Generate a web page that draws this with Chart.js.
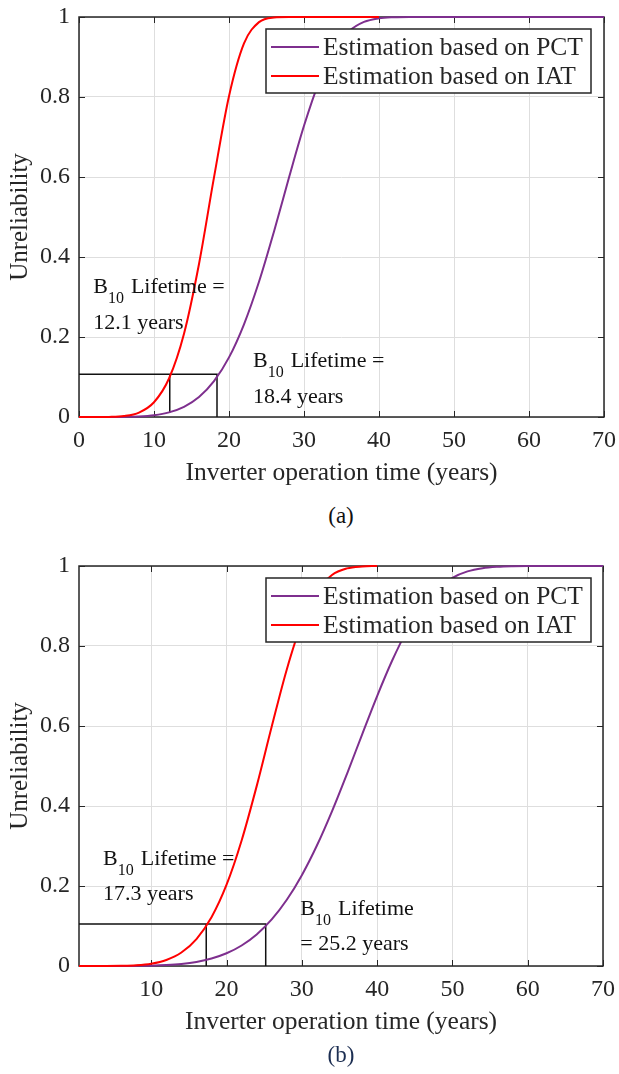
<!DOCTYPE html>
<html lang="en">
<head>
<meta charset="UTF-8">
<title>Inverter unreliability - B10 lifetime</title>
<script src="https://cdn.jsdelivr.net/npm/chart.js@4.4.1/dist/chart.umd.min.js"></script>
<style>
    body {margin:0;padding:0;background:#fff;font-family:"Liberation Serif","Times New Roman",serif;}
    .panel {position:absolute;left:0;width:619px;height:500px;}
    .caption {position:absolute;left:291px;width:100px;text-align:center;font-size:23px;line-height:26px;}
</style>
</head>
<body>
<div class="panel" style="top:0"><canvas id="chartA" width="619" height="500"></canvas></div>
<div class="caption" style="top:503px;color:#111;">(a)</div>
<div class="panel" style="top:549px"><canvas id="chartB" width="619" height="500"></canvas></div>
<div class="caption" style="top:1042px;color:#1c2e52;">(b)</div>
<script>
    // (a) values
    const yearsA_IAT = [0, 2, 4, 6, 8, 10, 12, 14, 16, 18, 20, 22, 24, 26, 28, 30, 35, 40];
    const unrelA_IAT = [0, 0, 0.0003, 0.0023, 0.0111, 0.0369, 0.0962, 0.2082, 0.3826, 0.5991, 0.8021, 0.934, 0.9872, 0.9988, 1, 1, 1, 1];
    const yearsA_PCT = [0, 2, 4, 6, 8, 10, 12, 14, 16, 18, 20, 22, 24, 26, 28, 30, 32, 34, 36, 38, 40, 42, 44, 50, 60, 70];
    const unrelA_PCT = [0, 0, 0, 0.0003, 0.0014, 0.0045, 0.0116, 0.0254, 0.0499, 0.0895, 0.149, 0.2318, 0.338, 0.4638, 0.5987, 0.728, 0.8373, 0.9164, 0.9642, 0.9877, 0.9968, 0.9994, 1, 1, 1, 1];
    const b10A = [12.1, 18.4];
    const b10LevelA = 0.107;
    const b10FootA = [0.012, 0];

    // (b) values
    const yearsB_IAT = [0.4, 2, 4, 6, 8, 10, 12, 14, 16, 18, 20, 22, 24, 26, 28, 30, 32, 34, 36, 38, 40];
    const unrelB_IAT = [0, 0, 0, 0.0004, 0.0018, 0.0058, 0.0151, 0.0337, 0.0673, 0.1219, 0.2032, 0.3139, 0.4497, 0.5987, 0.7414, 0.8576, 0.9356, 0.9773, 0.994, 0.9989, 1];
    const yearsB_PCT = [0.4, 2, 4, 6, 8, 10, 12, 14, 16, 18, 20, 22, 24, 26, 28, 30, 32, 34, 36, 38, 40, 42, 44, 46, 48, 50, 52, 54, 56, 58, 60, 65, 70];
    const unrelB_PCT = [0, 0, 0, 0.0001, 0.0003, 0.0009, 0.0024, 0.0052, 0.0102, 0.0187, 0.0318, 0.0513, 0.0789, 0.1164, 0.1655, 0.2271, 0.3012, 0.3867, 0.4806, 0.5786, 0.6749, 0.7637, 0.8397, 0.8996, 0.9426, 0.9705, 0.9865, 0.9946, 0.9981, 0.9995, 1, 1, 1];
    const b10B = [17.3, 25.2];
    const b10LevelB = 0.105;
    const b10FootB = [0, 0];

    const xTicksA = [0, 10, 20, 30, 40, 50, 60, 70];
    const xTicksB = [10, 20, 30, 40, 50, 60, 70];
    const yTicks = [0, 0.2, 0.4, 0.6, 0.8, 1];
    const seriesNames = ['Estimation based on PCT', 'Estimation based on IAT'];

    const SERIF = '"Liberation Serif", "Times New Roman", serif';
    const PURPLE = '#7e2f8e';
    const RED = '#ff0000';
    const INK = '#262626';

    function pairs(xs, ys) {
        return xs.map((x, i) => ({x: x, y: ys[i]}));
    }

    // horizontal B10 level line plus the two drop lines
    function b10Path(xMin, level, xs, feet) {
        return [
            {x: xMin, y: level}, {x: xs[1], y: level}, {x: xs[1], y: feet[1]},
            {x: xs[1], y: null},
            {x: xs[0], y: level}, {x: xs[0], y: feet[0]}
        ];
    }

    function font(size) {
        return size + 'px ' + SERIF;
    }

    // matlab-ish frame, inward ticks, boxed legend and the B10 notes
    const matlabFrame = {
        id: 'matlabFrame',
        beforeDatasetsDraw(chart) {
            const {ctx, chartArea: a, scales: {x, y}} = chart;
            ctx.save();
            ctx.strokeStyle = INK;
            ctx.lineWidth = 1.5;
            ctx.strokeRect(a.left, a.top, a.width, a.height);
            ctx.lineWidth = 1;
            ctx.beginPath();
            x.ticks.forEach(t => {
                const px = Math.round(x.getPixelForValue(t.value)) + 0.5;
                ctx.moveTo(px, a.bottom); ctx.lineTo(px, a.bottom - 6);
                ctx.moveTo(px, a.top); ctx.lineTo(px, a.top + 6);
            });
            y.ticks.forEach(t => {
                const py = Math.round(y.getPixelForValue(t.value)) + 0.5;
                ctx.moveTo(a.left, py); ctx.lineTo(a.left + 6, py);
                ctx.moveTo(a.right, py); ctx.lineTo(a.right - 6, py);
            });
            ctx.stroke();
            ctx.restore();
        },
        afterDatasetsDraw(chart, args, opts) {
            const {ctx, chartArea: a, scales: {x, y}} = chart;
            ctx.save();
            // legend box
            const bw = 325, bh = 64;
            const bx = a.right - opts.legendRight - bw, by = a.top + 12;
            ctx.fillStyle = '#fff';
            ctx.fillRect(bx, by, bw, bh);
            ctx.strokeStyle = INK;
            ctx.lineWidth = 1.5;
            ctx.strokeRect(bx, by, bw, bh);
            const curves = chart.data.datasets.filter(d => d.inLegend);
            curves.sort((p, q) => p.legendRank - q.legendRank);
            curves.forEach((d, i) => {
                const ly = by + 18 + i * 29;
                ctx.strokeStyle = d.borderColor;
                ctx.lineWidth = 2;
                ctx.beginPath();
                ctx.moveTo(bx + 5, ly); ctx.lineTo(bx + 53, ly);
                ctx.stroke();
                ctx.fillStyle = INK;
                ctx.font = font(25.5);
                ctx.textBaseline = 'middle';
                ctx.fillText(d.label, bx + 57, ly + 1);
            });
            // B10 notes
            ctx.fillStyle = '#111';
            ctx.textBaseline = 'alphabetic';
            opts.notes.forEach(n => {
                const px = x.getPixelForValue(n.x);
                const py1 = y.getPixelForValue(n.y1);
                const py2 = y.getPixelForValue(n.y2);
                ctx.font = font(22);
                ctx.fillText('B', px, py1);
                let cx = px + ctx.measureText('B').width;
                ctx.font = font(16);
                ctx.fillText('10', cx, py1 + 10);
                cx += ctx.measureText('10').width + 7;
                ctx.font = font(22);
                ctx.fillText(n.head, cx, py1);
                ctx.fillText(n.tail, px, py2);
            });
            ctx.restore();
        }
    };

    function makeChart(id, cfg) {
        const tickFont = {family: SERIF, size: 24};
        return new Chart(document.getElementById(id), {
            type: 'line',
            data: {
                datasets: [
                    {
                        label: seriesNames[0], data: pairs(cfg.pctX, cfg.pctY),
                        borderColor: PURPLE, borderWidth: 2, pointRadius: 0,
                        cubicInterpolationMode: 'monotone', order: 1,
                        inLegend: true, legendRank: 0, clip: {left: 0, top: 4, right: 4, bottom: 4}
                    },
                    {
                        label: seriesNames[1], data: pairs(cfg.iatX, cfg.iatY),
                        borderColor: RED, borderWidth: 2, pointRadius: 0,
                        cubicInterpolationMode: 'monotone', order: 0,
                        inLegend: true, legendRank: 1, clip: {left: 0, top: 4, right: 4, bottom: 4}
                    },
                    {
                        label: 'B10', data: b10Path(cfg.xMin, cfg.level, cfg.b10, cfg.feet),
                        borderColor: '#111', borderWidth: 1.5, pointRadius: 0,
                        tension: 0, spanGaps: false, order: 2
                    }
                ]
            },
            options: {
                responsive: false,
                animation: false,
                events: [],
                layout: {padding: {top: 17, right: cfg.padRight, left: 0, bottom: 0}},
                plugins: {
                    legend: {display: false},
                    tooltip: {enabled: false},
                    matlabFrame: {legendRight: cfg.legendRight, notes: cfg.notes}
                },
                scales: {
                    x: {
                        type: 'linear', min: cfg.xMin, max: 70,
                        afterBuildTicks: s => { s.ticks = cfg.xTicks.map(v => ({value: v})); },
                        afterFit: s => { s.height = 83; s.paddingLeft = 0; s.paddingRight = 0; },
                        grid: {color: '#dedede', lineWidth: 1, drawTicks: false},
                        border: {display: false},
                        ticks: {font: tickFont, color: INK, padding: 9, maxRotation: 0, autoSkip: false},
                        title: {
                            display: true, text: 'Inverter operation time (years)',
                            font: {family: SERIF, size: 25.5}, color: INK, padding: {top: 0, bottom: 11}
                        }
                    },
                    y: {
                        min: 0, max: 1,
                        afterBuildTicks: s => { s.ticks = yTicks.map(v => ({value: v})); },
                        afterFit: s => { s.width = 79; s.paddingTop = 0; s.paddingBottom = 0; },
                        grid: {color: '#dedede', lineWidth: 1, drawTicks: false},
                        border: {display: false},
                        ticks: {font: tickFont, color: INK, padding: 9, callback: v => String(v)},
                        title: {
                            display: true, text: 'Unreliability',
                            font: {family: SERIF, size: 25}, color: INK, padding: {top: 5, bottom: 0}
                        }
                    }
                }
            },
            plugins: [matlabFrame]
        });
    }

    makeChart('chartA', {
        pctX: yearsA_PCT, pctY: unrelA_PCT, iatX: yearsA_IAT, iatY: unrelA_IAT,
        xMin: 0, xTicks: xTicksA, b10: b10A, level: b10LevelA, feet: b10FootA,
        padRight: 15, legendRight: 13,
        notes: [
            {x: 1.9, y1: 0.31, y2: 0.22, head: 'Lifetime =', tail: '12.1 years'},
            {x: 23.2, y1: 0.126, y2: 0.036, head: 'Lifetime =', tail: '18.4 years'}
        ]
    });

    makeChart('chartB', {
        pctX: yearsB_PCT, pctY: unrelB_PCT, iatX: yearsB_IAT, iatY: unrelB_IAT,
        xMin: 0.4, xTicks: xTicksB, b10: b10B, level: b10LevelB, feet: b10FootB,
        padRight: 16, legendRight: 12,
        notes: [
            {x: 3.6, y1: 0.2525, y2: 0.165, head: 'Lifetime =', tail: '17.3 years'},
            {x: 29.8, y1: 0.1275, y2: 0.04, head: 'Lifetime', tail: '= 25.2 years'}
        ]
    });
</script>
</body>
</html>
